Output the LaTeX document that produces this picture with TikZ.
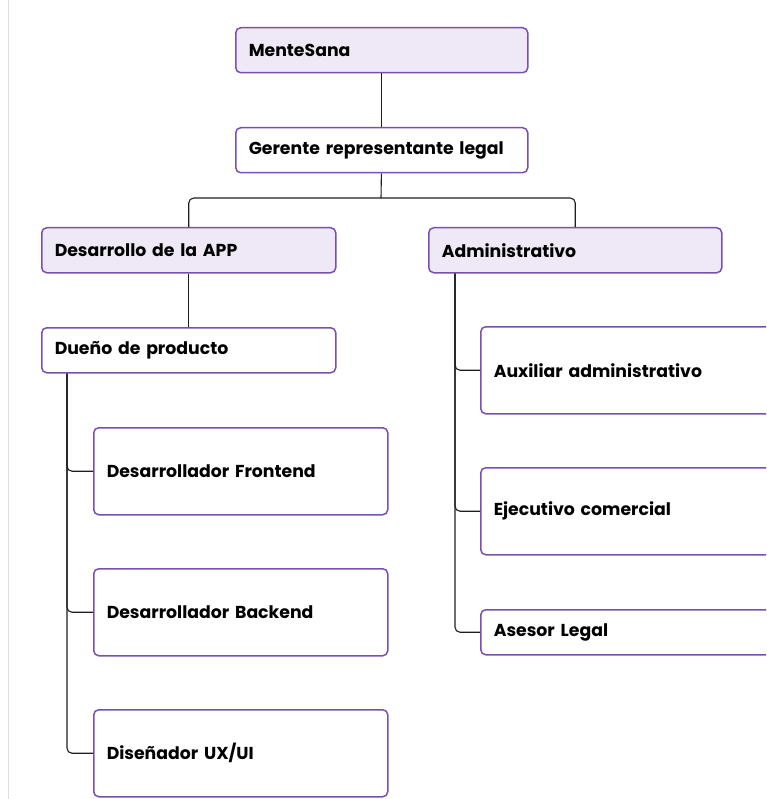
\documentclass[tikz,border=0pt]{standalone}
\usepackage{fontspec}
\setmainfont{Poppins}
\usetikzlibrary{positioning}

\definecolor{borde}{HTML}{7A50AE}
\definecolor{lila}{HTML}{EFE9F7}
\definecolor{linea}{HTML}{1E1E1E}

\tikzset{
  caja/.style={draw=borde, line width=1.5pt, rounded corners=5pt, fill=white,
    anchor=north west, inner xsep=13pt, inner ysep=0pt, align=left,
    font=\bfseries\fontsize{17.3}{20}\selectfont, text=black},
  corta/.style={caja, minimum height=45pt},
  alta/.style={caja, minimum height=87pt},
  cabeza/.style={corta, fill=lila},
  enlace/.style={draw=linea, line width=1.1pt, rounded corners=5pt}
}

\begin{document}
\begin{tikzpicture}[x=1pt, y=-1pt]

\useasboundingbox (0,0) rectangle (766,799);
\clip (0,0) rectangle (766,799);

\draw[black!12, line width=1pt] (8,0)--(8,799);

\node[cabeza, text width=266pt] (mente) at (235,27) {MenteSana};
\node[corta, text width=266pt] (gerente) at (235,127) {Gerente representante legal};

\node[cabeza, text width=268pt] (desarrollo) at (41,227) {Desarrollo de la APP};
\node[cabeza, text width=267pt] (admin) at (428,227) {Administrativo};

\node[corta, text width=268pt] (dueno) at (41,327) {Dueño de producto};

\node[alta, text width=268pt] (front) at (93,427) {Desarrollador Frontend};
\node[alta, text width=268pt] (back) at (93,568) {Desarrollador Backend};
\node[alta, text width=268pt] (disenador) at (93,709) {Diseñador UX/UI};

\node[alta, text width=300pt] (auxiliar) at (480,326) {Auxiliar administrativo};
\node[alta, text width=300pt] (ejecutivo) at (480,467) {Ejecutivo comercial};
\node[corta, text width=300pt] (asesor) at (480,609) {Asesor Legal};

\coordinate (reparto) at (381,198);

\draw[enlace] (mente) -- (gerente);
\draw[enlace] (gerente) -- (reparto);
\draw[enlace] (desarrollo.north) |- (reparto) -| (admin.north);
\draw[enlace] (desarrollo) -- (dueno);

\draw[enlace] ([xshift=26pt]dueno.south west) |- (front.west);
\draw[enlace] ([xshift=26pt]dueno.south west) |- (back.west);
\draw[enlace] ([xshift=26pt]dueno.south west) |- (disenador.west);

\draw[enlace] ([xshift=27pt]admin.south west) |- (auxiliar.west);
\draw[enlace] ([xshift=27pt]admin.south west) |- (ejecutivo.west);
\draw[enlace] ([xshift=27pt]admin.south west) |- (asesor.west);

\end{tikzpicture}
\end{document}
